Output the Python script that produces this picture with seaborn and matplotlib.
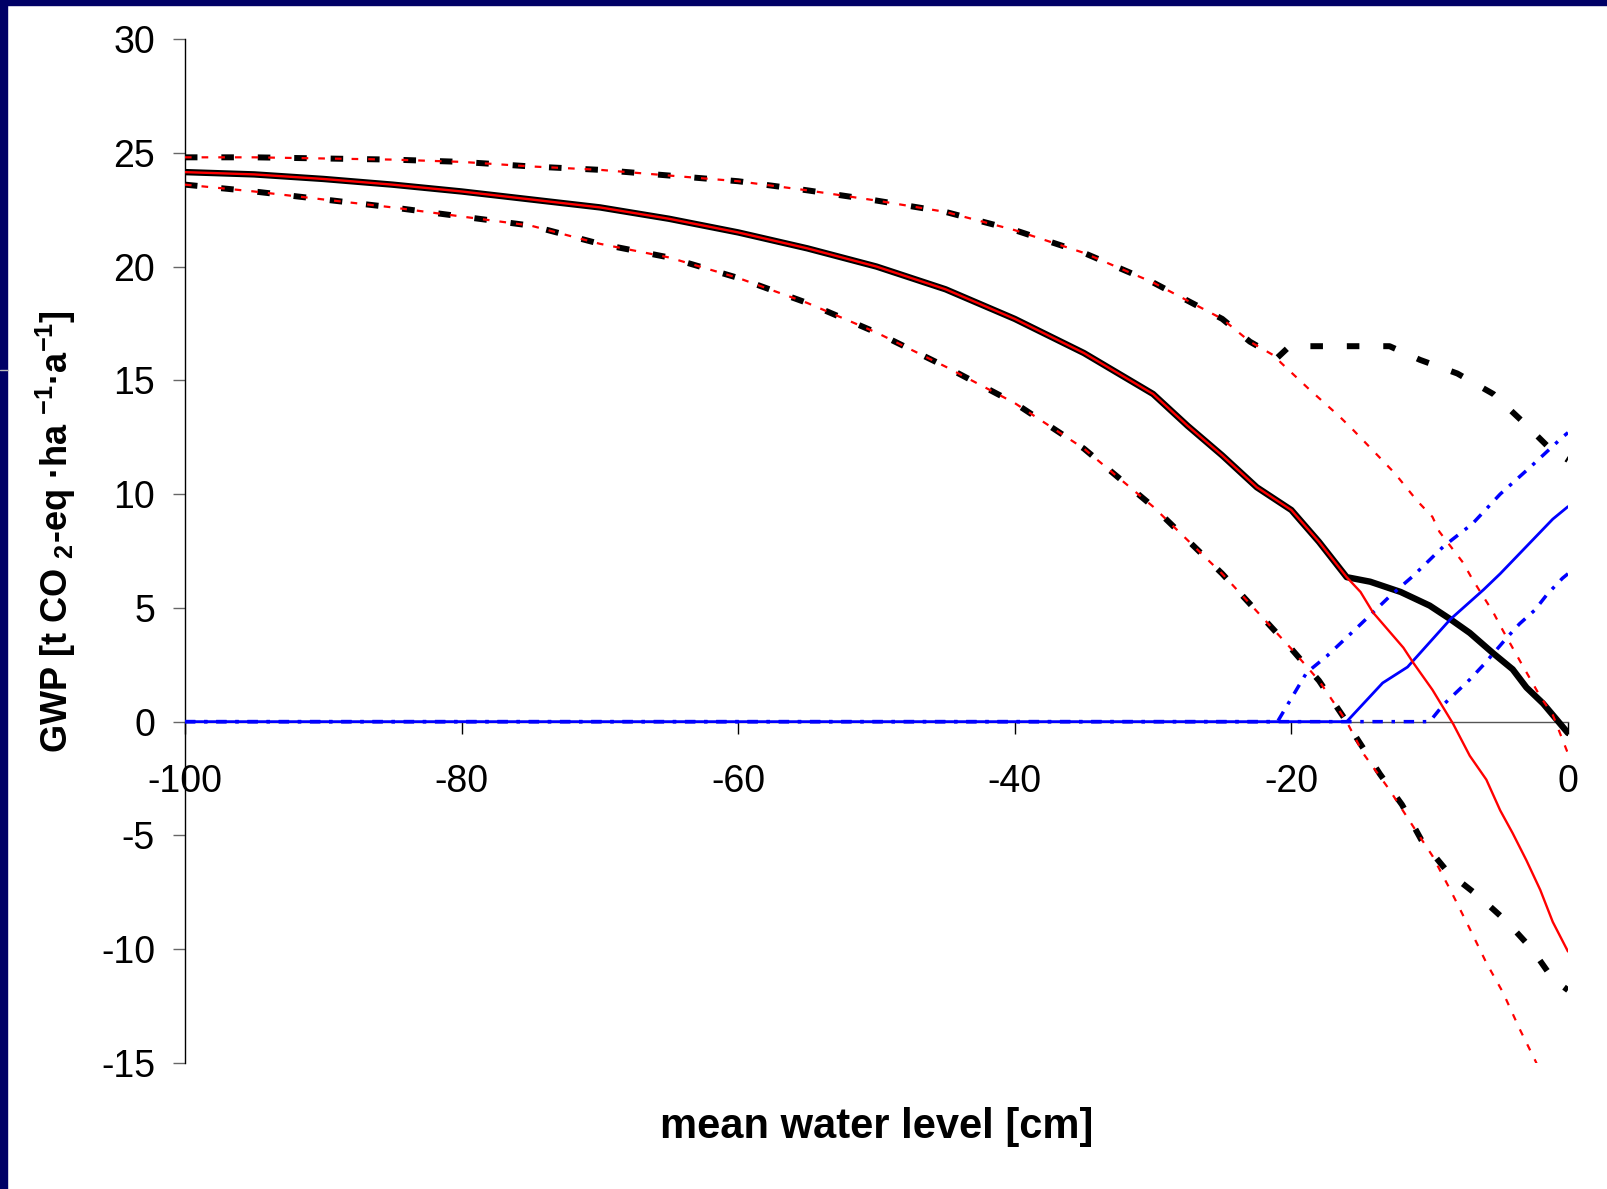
import matplotlib
matplotlib.use("Agg")
import matplotlib.pyplot as plt
from matplotlib.patches import Rectangle
from matplotlib.lines import Line2D
import seaborn as sns

# ---- data (water level in cm, GWP in t CO2-eq/ha/a) ----
wl_mean = [-100, -95, -90, -85, -80, -75, -70, -65, -60, -55, -50, -45, -40,
           -35, -30, -27.5, -25, -22.5, -20, -18, -16]
gwp_mean = [24.15, 24.05, 23.85, 23.6, 23.3, 22.95, 22.6, 22.1, 21.5, 20.8, 20.0,
            19.0, 17.7, 16.2, 14.4, 13.0, 11.7, 10.3, 9.3, 7.9, 6.35]

wl_black_tail = [-14.3, -12.1, -10.0, -8.5, -7.1, -5.4, -4.0, -3.0, -1.8, 0]
gwp_black_tail = [6.15, 5.7, 5.1, 4.5, 3.9, 3.0, 2.3, 1.5, 0.8, -0.5]

wl_red_tail = [-15.0, -14.1, -11.9, -11.2, -9.8, -8.3, -7.1, -5.9, -4.9, -4.0,
               -3.0, -2.0, -1.1, 0]
gwp_red_tail = [5.7, 4.8, 3.25, 2.6, 1.4, -0.1, -1.5, -2.55, -3.9, -4.9, -6.1,
                -7.4, -8.8, -10.1]

wl_upper = [-100, -95, -90, -85, -80, -75, -70, -65, -60, -55, -50, -45, -40,
            -35, -30, -25, -23, -21]
gwp_upper = [24.8, 24.8, 24.75, 24.7, 24.6, 24.4, 24.25, 24.0, 23.75, 23.35,
             22.9, 22.4, 21.6, 20.6, 19.3, 17.7, 16.7, 16.0]

wl_upper_black_tail = [-20.3, -19.2, -12.9, -10.7, -8.0, -5.4, -3.3, -1.3, 0]
gwp_upper_black_tail = [16.4, 16.5, 16.5, 15.9, 15.3, 14.4, 13.2, 12.0, 11.5]

wl_upper_red_tail = [-20.8, -18.7, -16.5, -15.5, -13.6, -12.5, -10.9, -9.8, -9.3,
                     -7.6, -6.9, -5.4, -4.7, -3.5, -2.0, -1.1, 0]
gwp_upper_red_tail = [15.8, 14.6, 13.4, 12.8, 11.6, 10.9, 9.7, 9.0, 8.35, 7.0,
                      6.25, 4.8, 4.0, 2.7, 1.1, 0.3, -1.4]

wl_lower = [-100, -95, -90, -85, -80, -75, -70, -65, -60, -55, -50, -45, -40,
            -35, -30, -25, -20, -18, -16]
gwp_lower = [23.6, 23.3, 22.95, 22.6, 22.2, 21.8, 21.0, 20.4, 19.5, 18.4, 17.1,
             15.6, 14.0, 12.0, 9.45, 6.5, 3.2, 1.8, 0.0]

wl_lower_black_tail = [-15.3, -13.6, -12.0, -10.6, -8.7, -6.4, -4.4, -2.6, -1.1, 0]
gwp_lower_black_tail = [-0.7, -2.3, -3.65, -5.2, -6.6, -7.7, -8.8, -10.0, -11.3, -11.8]

wl_lower_red_tail = [-14.8, -12.9, -11.2, -9.8, -8.5, -7.1, -5.9, -4.7, -3.5, -2.4, 0]
gwp_lower_red_tail = [-1.4, -3.0, -4.6, -5.9, -7.4, -9.1, -10.6, -11.9, -13.5, -14.85, -18.0]

wl_blue = [-100, -16, -13.4, -11.6, -8.5, -6.1, -4.9, -3.0, -1.1, 0]
gwp_blue = [0, 0, 1.7, 2.4, 4.5, 5.8, 6.5, 7.7, 8.9, 9.45]

wl_blue_upper = [-100, -21, -18.9, -17.4, -15.3, -12.9, -11.2, -9.0, -6.9, -4.9,
                 -2.7, -0.4, 0]
gwp_blue_upper = [0, 0, 2.15, 2.9, 4.1, 5.5, 6.4, 7.7, 8.7, 10.0, 11.2, 12.5, 12.7]

wl_blue_lower = [-100, -10.0, -9.0, -7.1, -6.1, -4.4, -3.5, -2.4, -1.5, -0.4, 0]
gwp_blue_lower = [0, 0, 0.75, 1.85, 2.5, 3.7, 4.3, 4.9, 5.6, 6.3, 6.5]

x_ticks = [-100, -80, -60, -40, -20, 0]
y_ticks = [-15, -10, -5, 0, 5, 10, 15, 20, 25, 30]

sns.set_theme(style="white")
plt.rcParams["font.family"] = ["Liberation Sans", "DejaVu Sans"]
plt.rcParams["mathtext.fontset"] = "custom"
plt.rcParams["mathtext.rm"] = "Liberation Sans"
plt.rcParams["mathtext.bf"] = "Liberation Sans:bold"
plt.rcParams["text.color"] = "black"
plt.rcParams["axes.labelcolor"] = "black"
plt.rcParams["xtick.color"] = "black"
plt.rcParams["ytick.color"] = "black"

fig = plt.figure(figsize=(16.08, 11.89), dpi=100, facecolor="white")
ax = fig.add_axes([0.1150, 0.106, 0.8601, 0.8612])
ax.set_facecolor("white")

BLACK_DASH = (0, (2.1, 4.0))
RED_DOT = (0, (3, 4.5))
BLUE_DASHDOT = (0, (3.0, 2.5, 1, 2.5))


def line(x, y, color, lw, ls="-", z=3):
    sns.lineplot(x=x, y=y, ax=ax, color=color, lw=lw, linestyle=ls,
                 estimator=None, sort=False, legend=False, zorder=z)


# black dashed bounds
line(wl_upper + wl_upper_black_tail, gwp_upper + gwp_upper_black_tail,
     "black", 4.3, BLACK_DASH, z=2.6)
line(wl_lower + wl_lower_black_tail, gwp_lower + gwp_lower_black_tail,
     "black", 4.3, BLACK_DASH, z=2.6)

# thick black mean
sns.lineplot(x=wl_mean + wl_black_tail, y=gwp_mean + gwp_black_tail, ax=ax,
             color="black", lw=4.6, estimator=None, sort=False, legend=False,
             zorder=2.7, solid_capstyle="round")

# blue lines (above the x-axis spine)
line(wl_blue, gwp_blue, "#0000ff", 2.0, "-", z=2.8)
line(wl_blue_upper, gwp_blue_upper, "#0000ff", 2.5, BLUE_DASHDOT, z=2.9)
line(wl_blue_lower, gwp_blue_lower, "#0000ff", 2.5, BLUE_DASHDOT, z=2.9)

# red lines
line(wl_mean + wl_red_tail, gwp_mean + gwp_red_tail, "#ff0000", 1.7, "-", z=3.0)
line(wl_upper + wl_upper_red_tail, gwp_upper + gwp_upper_red_tail,
     "#ff0000", 1.6, RED_DOT, z=3.1)
line(wl_lower + wl_lower_red_tail, gwp_lower + gwp_lower_red_tail,
     "#ff0000", 1.6, RED_DOT, z=3.1)

ax.set_xlim(-100, 0)
ax.set_ylim(-15, 30)
ax.set_xticks(x_ticks)
ax.set_yticks(y_ticks)
ax.set_xticklabels([str(t) for t in x_ticks])
ax.set_yticklabels([str(t) for t in y_ticks])

for s in ["top", "right"]:
    ax.spines[s].set_visible(False)
ax.spines["left"].set_color("black")
ax.spines["left"].set_linewidth(1.0)
ax.spines["bottom"].set_position(("data", 0))
ax.spines["bottom"].set_color("#555555")
ax.spines["bottom"].set_linewidth(1.0)

ax.tick_params(axis="x", direction="out", length=8.5, width=1, color="black",
               labelcolor="black", labelsize=27, pad=22, bottom=True)
ax.tick_params(axis="y", direction="out", length=8.5, width=1, color="#666666",
               labelcolor="black", labelsize=27, pad=13, left=True)

ax.set_xlabel("mean water level [cm]", fontsize=30, fontweight="bold", color="black")
ax.xaxis.set_label_coords(0.5004, -0.043)
ax.xaxis.label.set_va("top")
ax.set_ylabel(r"GWP [t CO $_{\mathbf{2}}$-eq ·ha $^{\mathbf{-1}}$·a$^{\mathbf{-1}}$]",
              fontsize=26, fontweight="bold", color="black")
ax.yaxis.set_label_coords(-0.077, 0.519)

# navy slide frame
fig.patches.append(Rectangle((0, 0), 7 / 1608, 1, transform=fig.transFigure,
                             color="#000066", zorder=10))
fig.patches.append(Rectangle((0, 1 - 5 / 1189), 1, 5 / 1189,
                             transform=fig.transFigure, color="#000066", zorder=10))
fig.lines.append(Line2D([0, 8 / 1608], [1 - 370 / 1189] * 2,
                        transform=fig.transFigure, color="#bbbbbb", lw=1, zorder=11))

fig.savefig("out.png", dpi=100, facecolor="white")
